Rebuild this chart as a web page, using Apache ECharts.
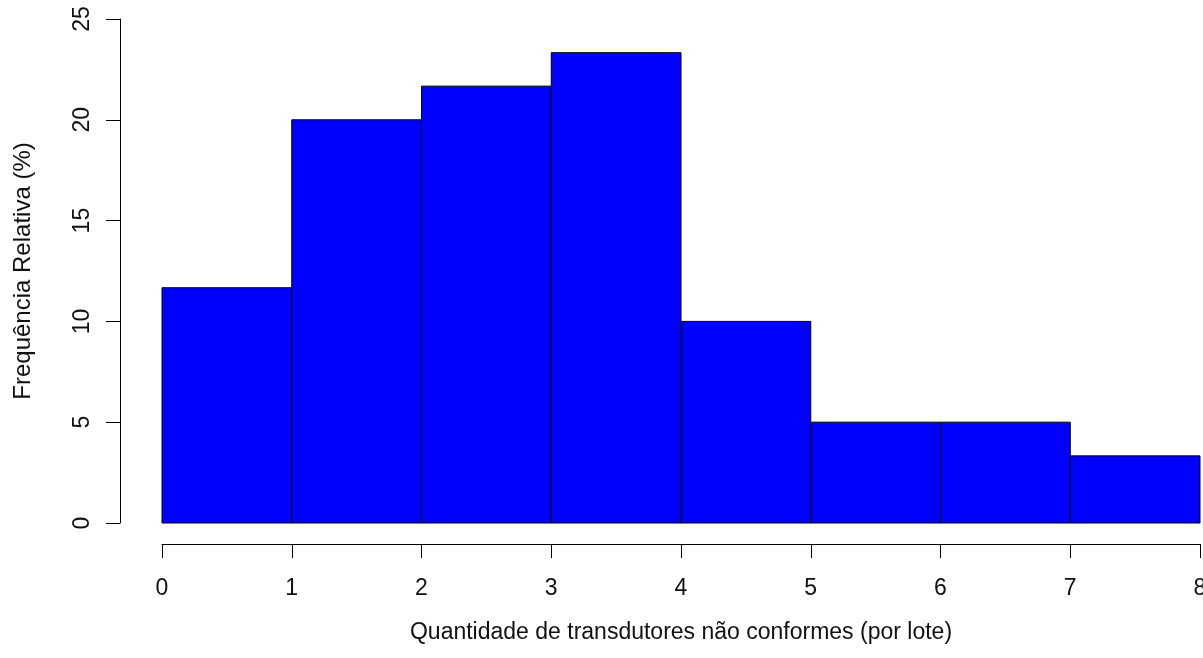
<!DOCTYPE html>
<html>
<head>
<meta charset="utf-8">
<script src="https://cdn.jsdelivr.net/npm/echarts@6/dist/echarts.min.js"></script>
<style>
  html, body { margin: 0; padding: 0; background: #fff; }
  #chart { width: 1203px; height: 658px; }
</style>
</head>
<body>
<div id="chart"></div>
<script>
// histogram bins (left/right edges) and relative frequency in %
const binStart = [0, 1, 2, 3, 4, 5, 6, 7];
const binEnd = [1, 2, 3, 4, 5, 6, 7, 8];
const freq = [11.67, 20, 21.67, 23.33, 10, 5, 5, 3.33];

const xTitle = "Quantidade de transdutores não conformes (por lote)";
const yTitle = "Frequência Relativa (%)";
const font = "Liberation Sans, Arial, sans-serif";

const chart = echarts.init(document.getElementById("chart"));

const data = binStart.map((s, i) => [s, binEnd[i], freq[i]]);

chart.setOption({
  animation: false,
  grid: { left: 162, right: 3, top: 19, bottom: 135, outerBoundsMode: "none" },
  xAxis: {
    type: "value",
    min: 0,
    max: 8,
    interval: 1,
    offset: 21,
    name: xTitle,
    nameLocation: "middle",
    nameGap: 77,
    nameTextStyle: { fontFamily: font, fontSize: 23, color: "#111" },
    axisLine: { show: true, onZero: false, lineStyle: { color: "#000", width: 1 } },
    axisTick: { show: true, length: 14, lineStyle: { color: "#000" } },
    axisLabel: { fontFamily: font, fontSize: 23, color: "#111", margin: 33 },
    splitLine: { show: false }
  },
  yAxis: {
    type: "value",
    min: 0,
    max: 25,
    interval: 5,
    offset: 42,
    name: yTitle,
    nameLocation: "middle",
    nameGap: 85,
    nameRotate: 90,
    nameTextStyle: { fontFamily: font, fontSize: 24, color: "#111" },
    axisLine: { show: true, onZero: false, lineStyle: { color: "#000", width: 1 } },
    axisTick: { show: true, length: 14, lineStyle: { color: "#000" } },
    axisLabel: { fontFamily: font, fontSize: 23, color: "#111", rotate: 90, margin: 26 },
    splitLine: { show: false }
  },
  series: [
    {
      type: "custom",
      data: data,
      encode: { x: [0, 1], y: 2 },
      renderItem: (params, api) => {
        const p0 = api.coord([api.value(0), api.value(2)]);
        const p1 = api.coord([api.value(1), 0]);
        return {
          type: "rect",
          shape: { x: p0[0], y: p0[1], width: p1[0] - p0[0], height: p1[1] - p0[1] },
          style: { fill: "#0000ff", stroke: "#000", lineWidth: 1 }
        };
      }
    }
  ]
});
</script>
</body>
</html>
